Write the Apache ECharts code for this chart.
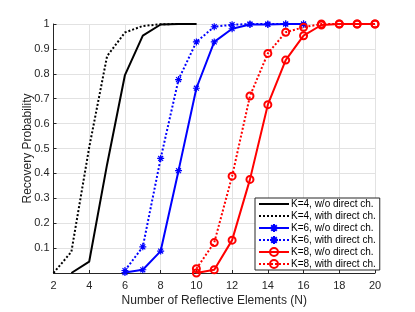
<!DOCTYPE html>
<html>
<head>
<meta charset="utf-8">
<script src="https://cdn.jsdelivr.net/npm/echarts@6/dist/echarts.min.js"></script>
<style>html,body{margin:0;padding:0;background:#fff;}#c{width:415px;height:312px;}</style>
</head>
<body>
<div id="c"></div>
<script>
var xTicks = [2, 4, 6, 8, 10, 12, 14, 16, 18, 20];
var yTicks = [0.1, 0.2, 0.3, 0.4, 0.5, 0.6, 0.7, 0.8, 0.9, 1];

var k4NoDirectN = [3, 4, 5, 6, 7, 8, 9, 10];
var k4NoDirect = [0, 0.046, 0.436, 0.795, 0.953, 0.998, 1, 1];
var k4DirectN = [2, 3, 4, 5, 6, 7, 8, 9, 10];
var k4Direct = [0, 0.085, 0.505, 0.871, 0.966, 0.992, 0.999, 1, 1];

var k6NoDirectN = [6, 7, 8, 9, 10, 11, 12, 13, 14, 15, 16];
var k6NoDirect = [0.002, 0.013, 0.088, 0.411, 0.742, 0.928, 0.981, 0.998, 0.998, 1, 1];
var k6DirectN = [6, 7, 8, 9, 10, 11, 12, 13, 14, 15, 16];
var k6Direct = [0.01, 0.105, 0.46, 0.777, 0.928, 0.989, 0.997, 1, 1, 1, 1];

var k8NoDirectN = [10, 11, 12, 13, 14, 15, 16, 17, 18, 19, 20];
var k8NoDirect = [0, 0.013, 0.132, 0.376, 0.676, 0.855, 0.953, 0.996, 1, 1, 1];
var k8DirectN = [10, 11, 12, 13, 14, 15, 16, 17, 18, 19, 20];
var k8Direct = [0.017, 0.122, 0.389, 0.711, 0.882, 0.967, 0.987, 1, 1, 1, 1];

var names = ['K=4, w/o direct ch.', 'K=4, with direct ch.', 'K=6, w/o direct ch.', 'K=6, with direct ch.', 'K=8, w/o direct ch.', 'K=8, with direct ch.'];

function pairs(xs, ys) { return xs.map(function (x, i) { return [x, ys[i]]; }); }

var star = 'path://M0,-1L0,1M-1,0L1,0M-0.7,-0.7L0.7,0.7M-0.7,0.7L0.7,-0.7';
var font = 'Liberation Sans, Arial, sans-serif';
var dotted = [2, 2];

function mk(name, data, color, dashed, symbol, size) {
  return {
    name: name, type: 'line', data: data,
    symbol: symbol || 'none', symbolSize: size || 6, showSymbol: !!symbol,
    lineStyle: { color: color, width: 2, type: dashed ? dotted : 'solid' },
    itemStyle: { color: symbol === 'circle' ? 'rgba(0,0,0,0)' : color, borderColor: color, borderWidth: symbol === 'circle' ? 2 : 1.2 },
    emphasis: { disabled: true }, animation: false, z: 3
  };
}

var legendData = names.map(function (n, i) {
  return i < 2 ? { name: n, itemStyle: { opacity: 0 } } : { name: n };
});

var chart = echarts.init(document.getElementById('c'), null, { renderer: 'canvas' });
chart.setOption({
  backgroundColor: '#fff',
  animation: false,
  grid: { left: 53.5, right: 40, top: 24, bottom: 34.3, containLabel: false },
  xAxis: {
    type: 'value', min: xTicks[0], max: xTicks[xTicks.length - 1], interval: 2,
    name: 'Number of Reflective Elements (N)', nameLocation: 'middle', nameGap: 22, nameMoveOverlap: false,
    nameTextStyle: { fontFamily: font, fontSize: 12, color: '#262626' },
    axisLine: { show: true, onZero: false, lineStyle: { color: '#262626', width: 1 } },
    axisTick: { show: true, inside: true, length: 3, lineStyle: { color: '#262626' } },
    axisLabel: { fontFamily: font, fontSize: 11, color: '#262626', margin: 7 },
    splitLine: { show: true, lineStyle: { color: '#e2e2e2', width: 1 } }
  },
  yAxis: {
    type: 'value', min: 0, max: yTicks[yTicks.length - 1], interval: 0.1,
    name: 'Recovery Probability', nameLocation: 'middle', nameGap: 20, nameMoveOverlap: false,
    nameTextStyle: { fontFamily: font, fontSize: 12, color: '#262626' },
    axisLine: { show: true, lineStyle: { color: '#262626', width: 1 } },
    axisTick: { show: true, inside: true, length: 3, lineStyle: { color: '#262626' } },
    axisLabel: { fontFamily: font, fontSize: 11, color: '#262626', margin: 4, showMinLabel: false,
      formatter: function (v) { var r = Math.round(v * 10) / 10; return yTicks.indexOf(r) >= 0 ? String(r) : ''; } },
    splitLine: { show: true, lineStyle: { color: '#e2e2e2', width: 1 } }
  },
  legend: {
    orient: 'vertical', left: 255, top: 198, width: 115,
    itemWidth: 30, itemHeight: 10, itemGap: 2,
    padding: [1, 4, 1, 3],
    backgroundColor: '#fff', borderColor: '#262626', borderWidth: 1,
    textStyle: { fontFamily: font, fontSize: 10, color: '#000', padding: [0, 0, 0, -3] },
    data: legendData
  },
  series: [
    mk(names[0], pairs(k4NoDirectN, k4NoDirect), '#000', false),
    mk(names[1], pairs(k4DirectN, k4Direct), '#000', true),
    mk(names[2], pairs(k6NoDirectN, k6NoDirect), '#0000ff', false, star, 7),
    mk(names[3], pairs(k6DirectN, k6Direct), '#0000ff', true, star, 7),
    mk(names[4], pairs(k8NoDirectN, k8NoDirect), '#ff0000', false, 'circle', 7),
    mk(names[5], pairs(k8DirectN, k8Direct), '#ff0000', true, 'circle', 7)
  ]
});
</script>
</body>
</html>
